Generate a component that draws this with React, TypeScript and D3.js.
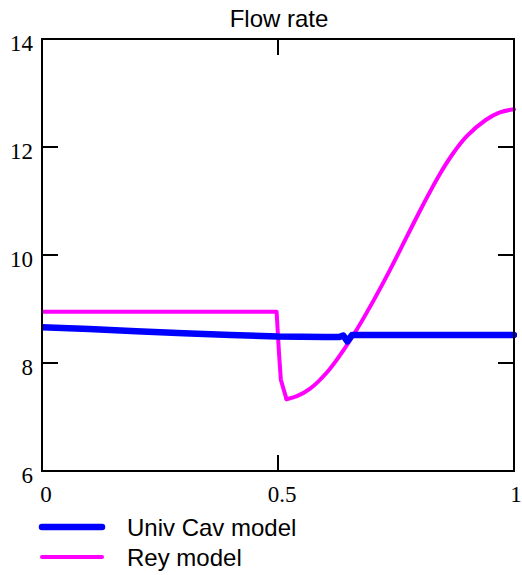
import React from "react";
import * as d3 from "d3";

const title = "Flow rate";
const xTicks = [0, 0.5, 1];
const xTickLabels = ["0", "0.5", "1"];
const yTicks = [6, 8, 10, 12, 14];
const yTickLabels = ["6", "8", "10", "12", "14"];

const univX = [0, 0.1, 0.2, 0.3, 0.4, 0.5, 0.6, 0.63, 0.638, 0.647, 0.657, 0.7, 0.85, 1.0];
const univY = [8.66, 8.63, 8.59, 8.55, 8.52, 8.49, 8.48, 8.48, 8.51, 8.4, 8.52, 8.52, 8.52, 8.52];

// plateau and sudden drop
const reyDropX = [0, 0.25, 0.497, 0.502, 0.506, 0.518];
const reyDropY = [8.95, 8.95, 8.95, 8.2, 7.69, 7.33];
// recovery
const reyRiseX = [0.518, 0.54, 0.568, 0.603, 0.635, 0.667, 0.702, 0.737, 0.773, 0.808, 0.843, 0.87, 0.9, 0.94, 0.97, 1.0];
const reyRiseY = [7.33, 7.385, 7.525, 7.82, 8.19, 8.62, 9.15, 9.72, 10.34, 10.94, 11.5, 11.87, 12.2, 12.5, 12.64, 12.7];

const seriesNames = ["Univ Cav model", "Rey model"];
const seriesColors = ["#0000ff", "#ff00ff"];

export default function App() {
  const W = 522, H = 575;
  const L = 42, R = 514, T = 39, B = 471;
  const x = d3.scaleLinear().domain([0, 1]).range([L, R]);
  const y = d3.scaleLinear().domain([6, 14]).range([B, T]);

  const univ = univX.map((v, i) => [v, univY[i]] as [number, number]);
  const reyDrop = reyDropX.map((v, i) => [v, reyDropY[i]] as [number, number]);
  const reyRise = reyRiseX.map((v, i) => [v, reyRiseY[i]] as [number, number]);

  const lineCurve = d3
    .line<[number, number]>()
    .x((d) => x(d[0]))
    .y((d) => y(d[1]))
    .curve(d3.curveCatmullRom.alpha(0.5));
  const lineLin = d3
    .line<[number, number]>()
    .x((d) => x(d[0]))
    .y((d) => y(d[1]));

  const serif = "'Liberation Serif', 'Times New Roman', serif";
  const sans = "'Liberation Sans', Arial, sans-serif";
  const tickLen = 16;

  const xLabelPos = (t: number, i: number) =>
    i === xTicks.length - 1 ? x(t) + 2 : x(t) + 4;

  return (
    <svg
      width={W}
      height={H}
      style={{ position: "absolute", left: 0, top: 0, background: "#fff" }}
    >
      <defs>
        <clipPath id="plotclip">
          <rect x={L} y={T - 5} width={R - L + 3} height={B - T + 10} />
        </clipPath>
      </defs>
      <text x={279} y={27} textAnchor="middle" fontFamily={sans} fontSize={24} fill="#000">
        {title}
      </text>

      <g clipPath="url(#plotclip)">
        <path d={lineLin(reyDrop) || ""} fill="none" stroke={seriesColors[1]} strokeWidth={4} strokeLinecap="round" strokeLinejoin="round" />
        <path d={lineCurve(reyRise) || ""} fill="none" stroke={seriesColors[1]} strokeWidth={4} strokeLinecap="round" strokeLinejoin="round" />
        <path d={lineLin(univ) || ""} fill="none" stroke={seriesColors[0]} strokeWidth={6.5} strokeLinecap="round" strokeLinejoin="round" />
      </g>

      {/* frame */}
      <rect x={L} y={T} width={R - L} height={B - T} fill="none" stroke="#000" strokeWidth={2} />

      {yTicks.slice(1, -1).map((t) => (
        <g key={"yt" + t}>
          <line x1={L} x2={L + tickLen} y1={y(t)} y2={y(t)} stroke="#000" strokeWidth={2} />
          <line x1={R} x2={R - tickLen} y1={y(t)} y2={y(t)} stroke="#000" strokeWidth={2} />
        </g>
      ))}
      {xTicks.slice(1, -1).map((t) => (
        <g key={"xt" + t}>
          <line x1={x(t)} x2={x(t)} y1={B} y2={B - tickLen} stroke="#000" strokeWidth={2} />
          <line x1={x(t)} x2={x(t)} y1={T} y2={T + tickLen} stroke="#000" strokeWidth={2} />
        </g>
      ))}

      {yTicks.map((t, i) => (
        <text key={"yl" + t} x={33} y={y(t) + 11.5} textAnchor="end" fontFamily={serif} fontSize={23} fill="#000">
          {yTickLabels[i]}
        </text>
      ))}
      {xTicks.map((t, i) => (
        <text key={"xl" + t} x={xLabelPos(t, i)} y={502} textAnchor="middle" fontFamily={serif} fontSize={23} fill="#000">
          {xTickLabels[i]}
        </text>
      ))}

      {seriesNames.map((n, i) => {
        const ly = 527 + i * 30;
        return (
          <g key={n}>
            <line x1={42} x2={102} y1={ly} y2={ly} stroke={seriesColors[i]} strokeWidth={i === 0 ? 6.5 : 4} strokeLinecap="round" />
            <text x={127} y={ly + 8.5} fontFamily={sans} fontSize={24} fill="#000">
              {n}
            </text>
          </g>
        );
      })}
    </svg>
  );
}
